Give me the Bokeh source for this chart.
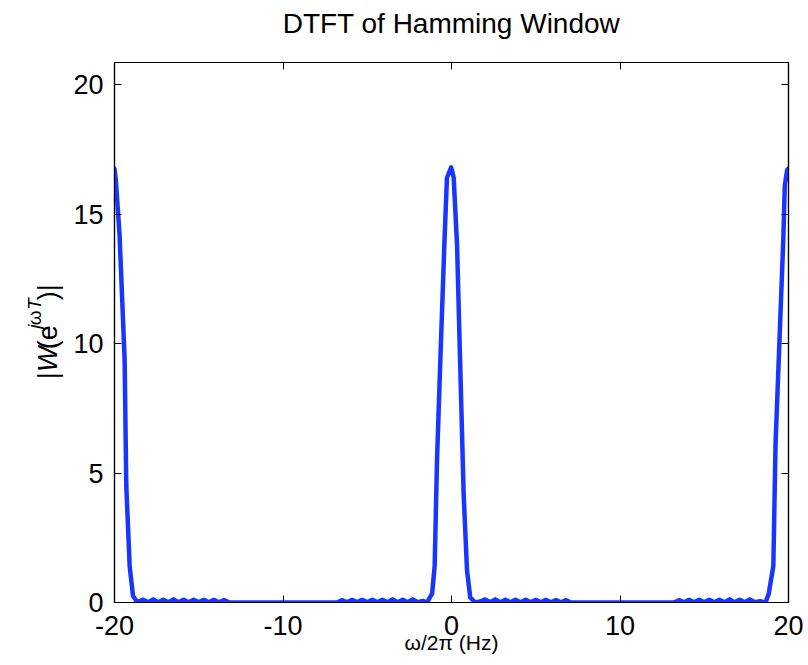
import math
from bokeh.plotting import figure
from bokeh.layouts import row
from bokeh.models import Range1d, LinearAxis, FixedTicker, CustomJSTickFormatter, Title
from bokeh.core.properties import value
from bokeh.embed import file_html
from bokeh.resources import INLINE

# ---- data ----
freq_hz = [
    -20.0, -19.92, -19.7, -19.4, -19.3, -19.1, -18.9, -18.65,
    -18.3, -18.0, -17.7, -17.4, -17.1, -16.8, -16.5, -16.2, -15.9, -15.6,
    -15.3, -15.0, -14.7, -14.4, -14.1, -13.8, -13.5, -13.2, -12.9,
    -6.8, -6.5, -6.2, -5.9, -5.6, -5.3, -5.0, -4.7, -4.4, -4.1, -3.8,
    -3.5, -3.2, -2.9, -2.6, -2.3, -2.0, -1.7,
    -1.45, -1.15, -1.0, -0.86, -0.66, -0.42, -0.27, -0.02, 0.13, 0.33,
    0.52, 0.72, 0.92, 1.11, 1.4,
    1.7, 2.0, 2.3, 2.6, 2.9, 3.2, 3.5, 3.8, 4.1, 4.4, 4.7, 5.0, 5.3, 5.6,
    5.9, 6.2, 6.5, 6.8, 7.1,
    13.2, 13.5, 13.8, 14.1, 14.4, 14.7, 15.0, 15.3, 15.6, 15.9, 16.2,
    16.5, 16.8, 17.1, 17.4, 17.7, 18.0, 18.3,
    18.64, 18.83, 19.1, 19.23, 19.69, 19.78, 19.92, 20.0,
]
magnitude = [
    16.75, 16.3, 14.2, 9.4, 4.5, 1.4, 0.25, 0.02,
    0.11, 0.01, 0.12, 0.01, 0.11, 0.01, 0.12, 0.01, 0.11, 0.01,
    0.11, 0.01, 0.10, 0.01, 0.10, 0.01, 0.09, 0.01, 0.0,
    0.0, 0.09, 0.01, 0.10, 0.01, 0.10, 0.01, 0.11, 0.01, 0.11, 0.01,
    0.12, 0.01, 0.11, 0.01, 0.12, 0.01, 0.06,
    0.0, 0.35, 1.4, 5.5, 9.4, 13.9, 16.4, 16.8, 16.4, 13.8,
    9.1, 4.2, 1.25, 0.2, 0.0,
    0.04, 0.12, 0.01, 0.12, 0.01, 0.11, 0.01, 0.11, 0.01, 0.11, 0.01,
    0.10, 0.01, 0.10, 0.01, 0.09, 0.01, 0.09, 0.0,
    0.0, 0.09, 0.01, 0.10, 0.01, 0.10, 0.01, 0.11, 0.01, 0.11, 0.01,
    0.12, 0.01, 0.11, 0.01, 0.12, 0.01, 0.05,
    0.0, 0.35, 1.4, 6.1, 14.0, 16.1, 16.7, 16.75,
]
x_ticks = [-20, -10, 0, 10, 20]
y_ticks = [0, 5, 10, 15, 20]
x_tick_labels = {-20: "-20", -10: "-10", 0: "0", 10: "10", 20: "20"}

FONT = "Liberation Sans"
BLUE = "#1a35ff"
TOTAL_W, TOTAL_H = 806, 663
LEFT_W = 70

# ---------------- main plot ----------------
p = figure(
    width=TOTAL_W - LEFT_W, height=TOTAL_H,
    x_range=Range1d(-20, 20), y_range=Range1d(0, 20.85),
    output_backend="svg", toolbar_location=None, title=None,
    min_border_left=111 - LEFT_W, min_border_right=TOTAL_W - 788,
    min_border_top=62, min_border_bottom=TOTAL_H - 602,
    x_axis_location=None, y_axis_location=None,
)
p.grid.visible = False
p.outline_line_color = "black"
p.outline_line_width = 1.2
p.background_fill_color = "white"
p.border_fill_color = "white"


def style_axis(ax, labels=True):
    ax.major_tick_in = 7
    ax.major_tick_out = 0
    ax.minor_tick_line_color = None
    ax.major_tick_line_color = "black"
    ax.axis_line_color = "black"
    ax.axis_line_width = 1.2
    ax.major_label_text_font = FONT
    ax.major_label_text_color = "black"
    if labels:
        ax.major_label_text_font_size = "27px"
    else:
        ax.major_label_text_font_size = "0px"
        ax.major_label_standoff = 0
        ax.formatter = CustomJSTickFormatter(code="return ''")


xb = LinearAxis(ticker=FixedTicker(ticks=x_ticks))
style_axis(xb)
xb.major_label_overrides = x_tick_labels
xb.major_label_standoff = 13
xb.axis_label = "ω/2π (Hz)"
xb.axis_label_text_font = FONT
xb.axis_label_text_font_size = "21px"
xb.axis_label_text_font_style = "normal"
xb.axis_label_text_color = "black"
xb.axis_label_standoff = -7
p.add_layout(xb, "below")

yl = LinearAxis(ticker=FixedTicker(ticks=y_ticks))
style_axis(yl)
yl.major_label_standoff = 11
p.add_layout(yl, "left")

# mirrored ticks on top; a blank axis label keeps room between frame and title
xt = LinearAxis(ticker=FixedTicker(ticks=x_ticks))
style_axis(xt, labels=False)
xt.axis_label = " "
xt.axis_label_text_font = FONT
xt.axis_label_text_font_size = "14px"
xt.axis_label_standoff = 0
p.add_layout(xt, "above")

yr = LinearAxis(ticker=FixedTicker(ticks=y_ticks))
style_axis(yr, labels=False)
p.add_layout(yr, "right")

title = Title(
    text="DTFT of Hamming Window", align="center", text_font=FONT,
    text_font_size="28px", text_font_style="normal", text_color="black",
    standoff=10,
)
p.add_layout(title, "above")

p.line(freq_hz, magnitude, line_color=BLUE, line_width=4.5,
       line_join="round", line_cap="round")

# ---------------- y-axis label |W(e^{jωT})| in a narrow side panel ----------------
lp = figure(
    width=LEFT_W, height=TOTAL_H,
    x_range=Range1d(0, LEFT_W), y_range=Range1d(0, TOTAL_H),
    output_backend="svg", toolbar_location=None, title=None,
    min_border=0, x_axis_location=None, y_axis_location=None,
)
lp.grid.visible = False
lp.outline_line_color = None
lp.background_fill_color = "white"
lp.border_fill_color = "white"

start = TOTAL_H - 389  # bottom end of the rotated label (screen row 389)
main_x, sup_x = 47, 34
pieces = [
    ("|", 0.0, main_x, "27px", "normal"),
    ("W", 9.0, main_x, "27px", "italic"),
    ("(e", 37.0, main_x, "27px", "normal"),
    ("j", 62.0, sup_x, "19px", "italic"),
    ("ω", 66.5, sup_x, "19px", "normal"),
    ("T", 85.0, sup_x, "19px", "italic"),
    (")|", 97.0, main_x, "27px", "normal"),
]
for txt, off, xx, size, style in pieces:
    lp.text(
        x=[xx], y=[start + off], text=[txt], angle=math.pi / 2,
        text_font=value(FONT), text_font_size=value(size),
        text_font_style=style, text_align="left", text_baseline="middle",
        text_color="black",
    )

layout = row(lp, p, spacing=0)
open("out.html", "w").write(file_html(layout, INLINE))
